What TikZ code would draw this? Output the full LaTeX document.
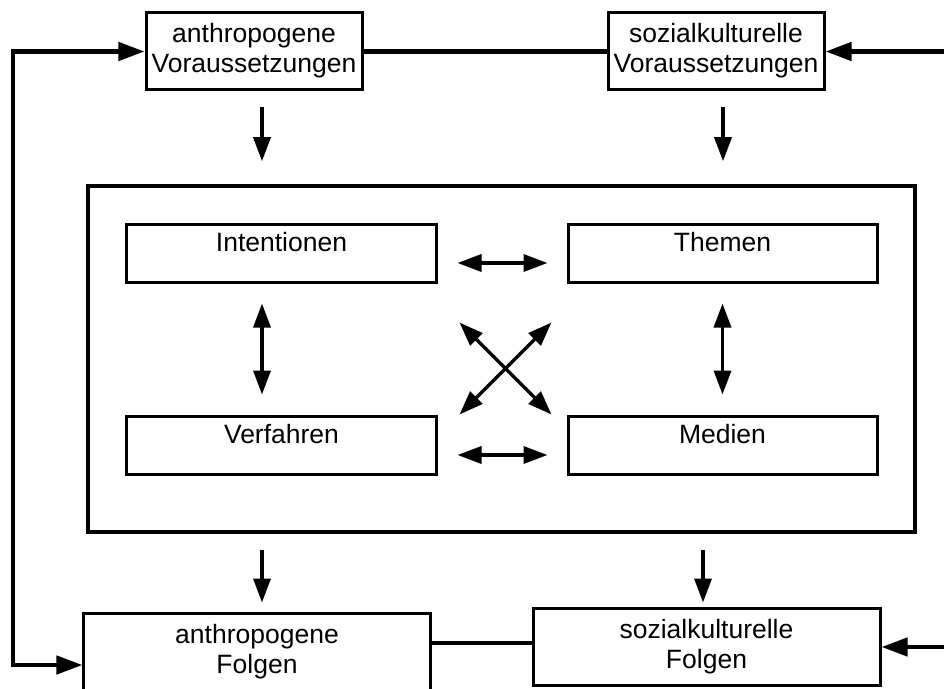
\documentclass[tikz,border=0pt]{standalone}
\usepackage{fontspec}
\setmainfont{Liberation Sans}
\usepackage{tikz}
\usetikzlibrary{arrows.meta, calc, positioning}

\begin{document}
\begin{tikzpicture}[x=1bp,y=-1bp,line join=miter,
  >={Triangle[length=24bp,width=17bp]},
  kasten/.style={draw, line width=3bp, align=center, inner sep=0pt,
    font=\fontsize{26.5bp}{30bp}\selectfont},
  feld/.style={draw, line width=3bp, inner sep=0pt, minimum width=309bp,
    text height=27.5bp, text depth=30.5bp, font=\fontsize{26.5bp}{30bp}\selectfont},
  pfeil/.style={line width=3.5bp},
  schleife/.style={line width=4.5bp, >={Triangle[length=26bp,width=18bp]}}]
\useasboundingbox (0,0) rectangle (944,689);
%%
  % Node: Voraussetzungen
\node[kasten, minimum width=216bp, minimum height=77bp, text depth=7bp] (anthVor) at (254,51.5) {anthropogene\\Voraussetzungen};
\node[kasten, minimum width=216bp, minimum height=77bp, text depth=7bp] (sozVor) at (716,51.5) {sozialkulturelle\\Voraussetzungen};
  % Node: Rahmen
\node[draw, line width=3.5bp, inner sep=0pt, minimum width=827bp, minimum height=346bp] (rahmen) at (501.5,359) {};
\node[feld] (intent) at (281.5,253) {Intentionen};
\node[feld] (themen) at (722.5,253) {Themen};
\node[feld] (verf) at (281.5,445) {Verfahren};
\node[feld] (medien) at (722.5,445) {Medien};
  % Node: Folgen
\node[kasten, minimum width=346bp, minimum height=78bp] (anthFol) at (257,652) {anthropogene\\Folgen};
\node[kasten, minimum width=347bp, minimum height=77bp] (sozFol) at (706.5,646.5) {sozialkulturelle\\Folgen};
\coordinate (rechtsOben) at (944,51.5);
\coordinate (rechtsUnten) at (944,647);
\coordinate (linksUnten) at (13,665);
\coordinate (verbUnten) at (480,643);
%
  % Edge: Rueckkopplung
\draw[schleife,<->] (anthVor.west) -| (linksUnten) -- (anthFol.west |- linksUnten);
\draw[schleife] (anthVor) -- (sozVor);
\draw[schleife,->] (rechtsOben) -- (sozVor.east);
\draw[schleife] (anthFol.east |- verbUnten) -- (sozFol.west |- verbUnten);
\draw[schleife,->] (rechtsUnten) -- (sozFol.east |- rechtsUnten);
  % Edge: Voraussetzungen -- Rahmen -- Folgen
\draw[pfeil,->,shorten <=16bp,shorten >=23bp] ([xshift=8bp]anthVor.south) -- ([xshift=8bp]anthVor.south |- rahmen.north);
\draw[pfeil,->,shorten <=16bp,shorten >=23bp] ([xshift=7bp]sozVor.south) -- ([xshift=7bp]sozVor.south |- rahmen.north);
\draw[pfeil,->,shorten <=16bp,shorten >=9bp] ([xshift=5bp]anthFol.north |- rahmen.south) -- ([xshift=5bp]anthFol.north);
\draw[pfeil,->,shorten <=16bp,shorten >=4bp] ([xshift=-3.5bp]sozFol.north |- rahmen.south) -- ([xshift=-3.5bp]sozFol.north);
  % Edge: innen
\draw[pfeil,<->,shorten <=20bp,shorten >=19bp] ([yshift=-10bp]intent.east) -- ([yshift=-10bp]themen.west);
\draw[pfeil,<->,shorten <=20bp,shorten >=19bp] ([yshift=-10bp]verf.east) -- ([yshift=-10bp]medien.west);
\draw[pfeil,<->,shorten <=20bp,shorten >=20bp] ([xshift=-19.5bp]intent.south) -- ([xshift=-19.5bp]verf.north);
\draw[pfeil,<->,shorten <=20bp,shorten >=20bp] (themen.south) -- (medien.north);
\draw[pfeil,<->] ($(intent.south east)+(22,39)$) -- ($(medien.north west)+(-15,0)$);
\draw[pfeil,<->] ($(themen.south west)+(-15,39)$) -- ($(verf.north east)+(22,0)$);
%
\end{tikzpicture}
\end{document}
